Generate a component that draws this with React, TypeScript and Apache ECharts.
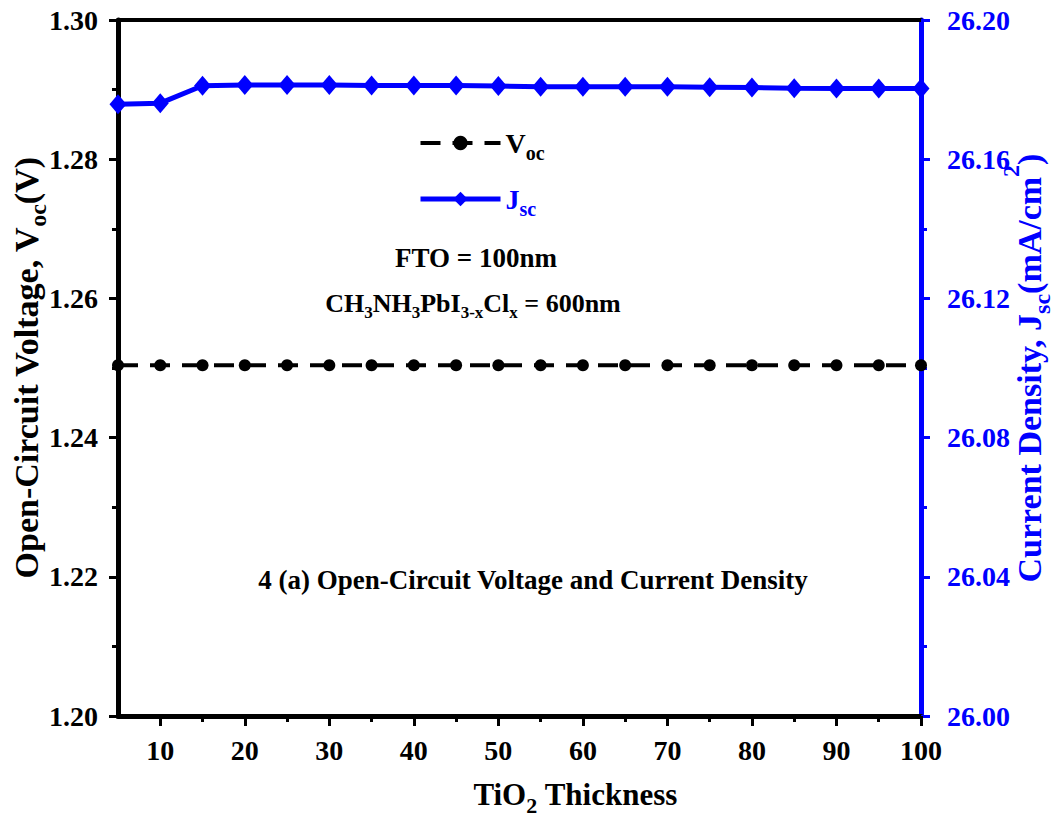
import React, { useEffect, useRef } from 'react';
import * as echarts from 'echarts';

const thickness = [5, 10, 15, 20, 25, 30, 35, 40, 45, 50, 55, 60, 65, 70, 75, 80, 85, 90, 95, 100];
const vocValues = [1.2504, 1.2504, 1.2504, 1.2504, 1.2504, 1.2504, 1.2504, 1.2504, 1.2504, 1.2504,
  1.2504, 1.2504, 1.2504, 1.2504, 1.2504, 1.2504, 1.2504, 1.2504, 1.2504, 1.2504];
const jscValues = [26.1758, 26.1761, 26.1811, 26.1813, 26.1813, 26.1813, 26.1812, 26.1812, 26.1812, 26.1810,
  26.1808, 26.1808, 26.1808, 26.1808, 26.1807, 26.1806, 26.1804, 26.1803, 26.1803, 26.1803];
const xMajorTicks = [10, 20, 30, 40, 50, 60, 70, 80, 90, 100];
const xMinorTicks = [15, 25, 35, 45, 55, 65, 75, 85, 95];

const FONT = 'Liberation Serif';
const BLUE = '#0000ff';
const BLACK = '#000000';

function richSet(color: string, size: number, subRatio = 0.72) {
  return {
    n: { fontFamily: FONT, fontWeight: 'bold', fontSize: size, color },
    s: { fontFamily: FONT, fontWeight: 'bold', fontSize: Math.round(size * subRatio), color, padding: [Math.round(size * 0.7), 0, 0, 0] },
    p: { fontFamily: FONT, fontWeight: 'bold', fontSize: Math.round(size * subRatio), color, padding: [0, 0, Math.round(size * 1.1), 0] },
  };
}

export default function App() {
  const ref = useRef<HTMLDivElement>(null);
  useEffect(() => {
    if (!ref.current) return;
    const chart = echarts.init(ref.current, null, { renderer: 'svg' });
    const tickLabel = (color: string) => ({
      fontFamily: FONT, fontWeight: 'bold' as const, fontSize: 28, color,
    });
    const option: any = {
      animation: false,
      backgroundColor: '#ffffff',
      grid: { left: 118, right: 135, top: 20, bottom: 100, containLabel: false, outerBoundsMode: 'none' },
      legend: {
        orient: 'vertical',
        left: 413,
        top: 124,
        itemWidth: 80,
        itemHeight: 18,
        itemGap: 22,
        lineStyle: { width: 4 },
        data: [
          { name: 'Voc', textStyle: { rich: richSet(BLACK, 28) }, lineStyle: { width: 4, type: [20, 12] } },
          { name: 'Jsc', textStyle: { rich: richSet(BLUE, 28) }, lineStyle: { width: 5 } },
        ],
        formatter: (name: string) => (name === 'Voc' ? '{n|V}{s|oc}' : '{n|J}{s|sc}'),
      },
      xAxis: [
        {
          type: 'value', position: 'bottom', min: 5, max: 100,
          axisLine: { show: true, lineStyle: { color: BLACK, width: 5 } },
          axisTick: { show: true, customValues: xMajorTicks, length: 10, lineStyle: { width: 3, color: BLACK } },
          axisLabel: { show: true, customValues: xMajorTicks, margin: 20, ...tickLabel(BLACK) },
          splitLine: { show: false },
          name: '{n|TiO}{s|2}{n| Thickness}',
          nameLocation: 'middle',
          nameGap: 56,
          nameMoveOverlap: false,
          nameTextStyle: { rich: richSet(BLACK, 31), padding: [0, 0, 0, 112] },
        },
        {
          type: 'value', position: 'bottom', min: 5, max: 100,
          axisLine: { show: false },
          axisTick: { show: true, customValues: xMinorTicks, length: 6, lineStyle: { width: 3, color: BLACK } },
          axisLabel: { show: false },
          splitLine: { show: false },
        },
        {
          type: 'value', position: 'top', min: 5, max: 100,
          axisLine: { show: true, lineStyle: { color: BLACK, width: 4 } },
          axisTick: { show: false },
          axisLabel: { show: false },
          splitLine: { show: false },
        },
      ],
      yAxis: [
        {
          type: 'value', position: 'left', min: 1.2, max: 1.3, interval: 0.02,
          axisLine: { show: true, lineStyle: { color: BLACK, width: 5 } },
          axisTick: { show: true, length: 9, lineStyle: { width: 3, color: BLACK } },
          minorTick: { show: true, splitNumber: 2, length: 6, lineStyle: { width: 3, color: BLACK } },
          axisLabel: { margin: 20, formatter: (v: number) => v.toFixed(2), ...tickLabel(BLACK) },
          splitLine: { show: false },
          name: '{n|Open-Circuit Voltage, V}{s|oc}{n|(V)}',
          nameLocation: 'middle',
          nameRotate: 90,
          nameGap: 68,
          nameMoveOverlap: false,
          nameTextStyle: { rich: richSet(BLACK, 34) },
        },
        {
          type: 'value', position: 'right', min: 26.0, max: 26.2, interval: 0.04,
          axisLine: { show: true, lineStyle: { color: BLUE, width: 5 } },
          axisTick: { show: true, length: 9, lineStyle: { width: 3, color: BLUE } },
          minorTick: { show: true, splitNumber: 2, length: 6, lineStyle: { width: 3, color: BLUE } },
          axisLabel: { margin: 26, formatter: (v: number) => v.toFixed(2), ...tickLabel(BLUE) },
          splitLine: { show: false },
          name: '{n|Current Density, J}{s|sc}{n|(mA/cm}{p|2}{n|)}',
          nameLocation: 'middle',
          nameRotate: 90,
          nameGap: 78,
          nameMoveOverlap: false,
          nameTextStyle: { rich: richSet(BLUE, 34) },
        },
      ],
      graphic: [
        {
          type: 'text', x: 476, y: 258,
          style: { text: 'FTO = 100nm', align: 'center', verticalAlign: 'middle', fill: BLACK, font: `bold 27px "${FONT}"` },
        },
        {
          type: 'text', x: 473, y: 303,
          style: {
            text: '{n|CH}{s|3}{n|NH}{s|3}{n|PbI}{s|3-x}{n|Cl}{s|x}{n| = 600nm}',
            align: 'center', verticalAlign: 'middle', rich: richSet(BLACK, 26, 0.66),
          },
        },
        {
          type: 'text', x: 533, y: 580,
          style: {
            text: '4 (a) Open-Circuit Voltage and Current Density',
            align: 'center', verticalAlign: 'middle', fill: BLACK, font: `bold 27px "${FONT}"`,
          },
        },
      ],
      series: [
        {
          name: 'Voc', type: 'line', xAxisIndex: 0, yAxisIndex: 0,
          data: thickness.map((t, i) => [t, vocValues[i]]),
          symbol: 'circle', symbolSize: 12,
          lineStyle: { color: BLACK, width: 4, type: [20, 12] },
          itemStyle: { color: BLACK },
          z: 3,
        },
        {
          name: 'Jsc', type: 'line', xAxisIndex: 0, yAxisIndex: 1,
          data: thickness.map((t, i) => [t, jscValues[i]]),
          symbol: 'diamond', symbolSize: [17, 20],
          lineStyle: { color: BLUE, width: 5 },
          itemStyle: { color: BLUE },
          z: 3,
        },
      ],
    };
    chart.setOption(option);
    return () => chart.dispose();
  }, []);
  return (
    <div
      ref={ref}
      style={{ position: 'absolute', left: 0, top: 0, width: 1056, height: 816, background: '#fff' }}
    />
  );
}
